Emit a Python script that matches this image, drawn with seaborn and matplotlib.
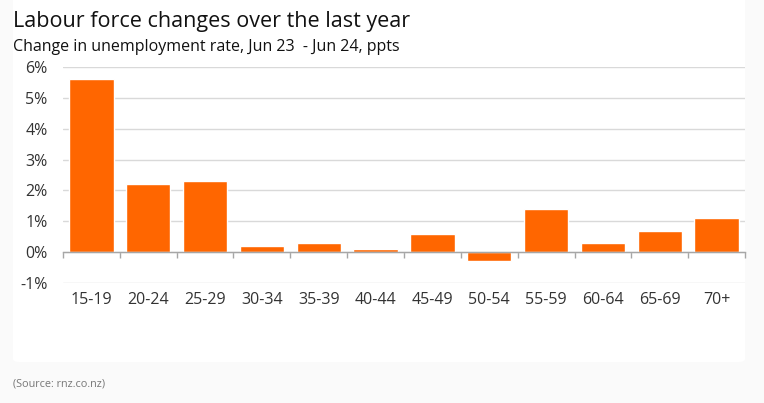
import numpy as np
import pandas as pd
import matplotlib.pyplot as plt
import seaborn as sns
from matplotlib.patches import FancyBboxPatch
from matplotlib.ticker import FuncFormatter, FixedLocator

# --- data ---
age_groups = ["15-19", "20-24", "25-29", "30-34", "35-39", "40-44",
              "45-49", "50-54", "55-59", "60-64", "65-69", "70+"]
change_ppts = [5.6, 2.2, 2.3, 0.2, 0.3, 0.1, 0.6, -0.3, 1.4, 0.3, 0.7, 1.1]
y_ticks = [-1, 0, 1, 2, 3, 4, 5, 6]

df = pd.DataFrame({"age": age_groups, "change": change_ppts})

sns.set_theme(style="white")
plt.rcParams['font.family'] = ['Open Sans', 'DejaVu Sans']

fig = plt.figure(figsize=(7.64, 4.03), dpi=100, facecolor="#fafafa")

# white card behind the chart
card = FancyBboxPatch((13 / 764, 1 - 362 / 403), (745 - 13) / 764, 362 / 403 + 0.02,
                      boxstyle="round,pad=0,rounding_size=0.008",
                      transform=fig.transFigure, facecolor="white",
                      edgecolor="none", zorder=-5)
fig.patches.append(card)

ax = fig.add_axes([63 / 764, 1 - 283 / 403, (745 - 63) / 764, (283 - 67) / 403])
ax.set_facecolor("none")
ax.set_zorder(2)

sns.barplot(data=df, x="age", y="change", color="#ff6600", saturation=1,
            width=0.78, ax=ax, zorder=3)

ax.set_ylim(-1, 6)
ax.set_xlim(-0.5, len(age_groups) - 0.5)
ax.yaxis.set_major_locator(FixedLocator(y_ticks))
ax.yaxis.set_major_formatter(FuncFormatter(lambda v, p: f"{v:.0f}%"))
ax.grid(axis="y", color="#d9d9d9", linewidth=1, zorder=0)
ax.set_xlabel("")
ax.set_ylabel("")

for side in ["top", "right", "left"]:
    ax.spines[side].set_visible(False)
ax.spines["bottom"].set_position(("data", 0))
ax.spines["bottom"].set_color("#a6a6a6")
ax.spines["bottom"].set_linewidth(1)
ax.spines["bottom"].set_zorder(4)

# tick marks between categories on the zero line
ax.set_xticks(np.arange(len(age_groups) + 1) - 0.5, minor=True)
ax.tick_params(axis="x", which="minor", direction="out", length=4,
               width=1, color="#a6a6a6", bottom=True)
ax.tick_params(axis="x", which="major", length=0, pad=29,
               labelsize=11.5, labelcolor="#333333")
ax.tick_params(axis="y", length=0, pad=11, labelsize=11.5, labelcolor="#333333")

fig.text(13 / 764, 1 - 22 / 403, "Labour force changes over the last year",
         fontsize=15.5, color="#111111", va="center", ha="left")
fig.text(13 / 764, 1 - 47 / 403,
         "Change in unemployment rate, Jun 23  - Jun 24, ppts",
         fontsize=11.5, color="#111111", va="center", ha="left")
fig.text(13 / 764, 1 - 384 / 403, "(Source: rnz.co.nz)",
         fontsize=7.8, color="#777777", va="center", ha="left")

fig.savefig("out.png", dpi=100, facecolor=fig.get_facecolor())
